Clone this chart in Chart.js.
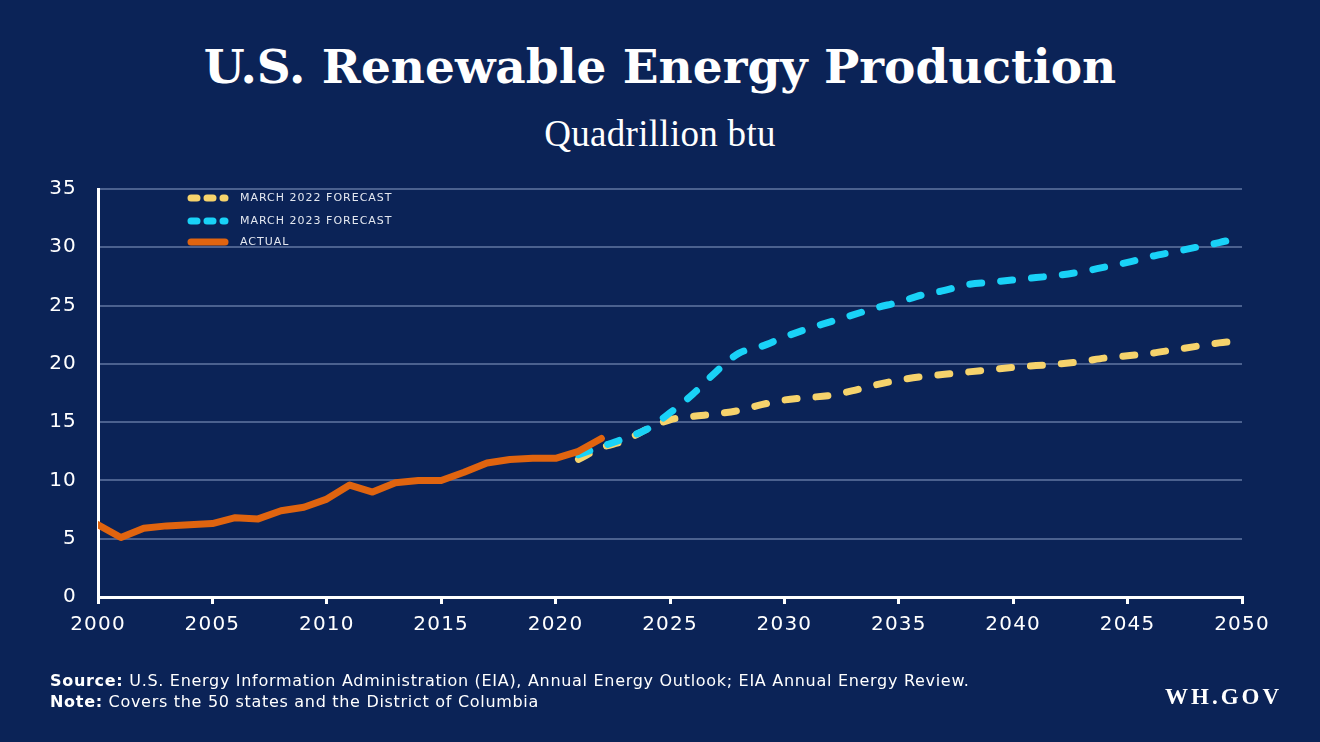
<!DOCTYPE html>
<html>
<head>
<meta charset="utf-8">
<title>U.S. Renewable Energy Production</title>
<script src="https://cdn.jsdelivr.net/npm/chart.js@4.4.1/dist/chart.umd.min.js"></script>
<style>
  html, body { margin: 0; padding: 0; }
  body { width: 1320px; height: 742px; background: #0b2357; position: relative; overflow: hidden; }
  #title { position: absolute; left: 0; width: 1320px; top: 39px; text-align: center; color: #fff;
    font: bold 47px "DejaVu Serif", serif; letter-spacing: 0px; }
  #subtitle { position: absolute; left: 0; width: 1320px; top: 112px; text-align: center; color: #fff;
    font: 37px "Liberation Serif", serif; letter-spacing: 0.3px; }
  #chart-box { position: absolute; left: 0; top: 0; width: 1320px; height: 742px; }
  .foot { position: absolute; left: 50px; color: #fff; font: 16px "DejaVu Sans", sans-serif; letter-spacing: 0.7px; }
  .foot b { font-weight: bold; }
  #wh { position: absolute; left: 1165px; top: 684px; color: #fff; font: 600 23px "Liberation Serif", serif; letter-spacing: 3px; }
</style>
</head>
<body>
<div id="title">U.S. Renewable Energy Production</div>
<div id="subtitle">Quadrillion btu</div>
<div id="chart-box"><canvas id="my-chart"></canvas></div>
<div class="foot" style="top:671px"><b>Source:</b> U.S. Energy Information Administration (EIA), Annual Energy Outlook; EIA Annual Energy Review.</div>
<div class="foot" style="top:692px"><b>Note:</b> Covers the 50 states and the District of Columbia</div>
<div id="wh">WH.GOV</div>

<script>
'use strict';

//**************DATA********** */
let years = [2000, 2001, 2002, 2003, 2004, 2005, 2006, 2007, 2008, 2009,
  2010, 2011, 2012, 2013, 2014, 2015, 2016, 2017, 2018, 2019,
  2020, 2021, 2022, 2023, 2024, 2025, 2026, 2027, 2028, 2029,
  2030, 2031, 2032, 2033, 2034, 2035, 2036, 2037, 2038, 2039,
  2040, 2041, 2042, 2043, 2044, 2045, 2046, 2047, 2048, 2049, 2050];

// actual, 2000 - 2022
let actual = [6.2, 5.1, 5.9, 6.1, 6.2, 6.3, 6.8, 6.7, 7.4, 7.7,
  8.4, 9.6, 9.0, 9.8, 10.0, 10.0, 10.7, 11.5, 11.8, 11.9,
  11.9, 12.5, 13.6];

// March 2022 forecast, 2021 - 2050
let forecast2022 = [11.8, 12.8, 13.4, 14.4, 15.2, 15.5, 15.7, 16.0, 16.5, 16.9,
  17.1, 17.3, 17.7, 18.2, 18.6, 18.9, 19.1, 19.3, 19.5, 19.7,
  19.85, 20.0, 20.2, 20.5, 20.7, 20.9, 21.2, 21.5, 21.8, 22.0];

// March 2023 forecast, 2021 - 2050
let forecast2023 = [12.2, 12.9, 13.6, 14.4, 15.8, 17.4, 19.3, 20.9, 21.5, 22.3,
  23.0, 23.6, 24.2, 24.8, 25.3, 25.9, 26.3, 26.8, 27.0, 27.2,
  27.4, 27.6, 27.9, 28.3, 28.7, 29.2, 29.6, 30.0, 30.4, 30.9];

let seriesNames = ['MARCH 2022 FORECAST', 'MARCH 2023 FORECAST', 'ACTUAL'];
let yTicks = [0, 5, 10, 15, 20, 25, 30, 35];
let xTicks = [2000, 2005, 2010, 2015, 2020, 2025, 2030, 2035, 2040, 2045, 2050];

//**************HELPERS********** */
function toPoints(startYear, values) {
  let start = years.indexOf(startYear);
  return values.map((v, i) => ({ x: years[start + i], y: v }));
}

// wider tick lettering, like the original's geometric sans
let tickSpacing = {
  id: 'tickSpacing',
  beforeInit(chart) { chart.ctx.letterSpacing = '1.2px'; },
  beforeDraw(chart) { chart.ctx.letterSpacing = '1.2px'; }
};

// legend drawn inside the plot, top left
let insideLegend = {
  id: 'insideLegend',
  afterDraw(chart) {
    let c = chart.ctx;
    let area = chart.chartArea;
    let rows = [9, 32, 53];
    c.save();
    c.font = '11px "DejaVu Sans", sans-serif';
    c.letterSpacing = '1px';
    c.textBaseline = 'middle';
    chart.data.datasets.forEach((ds, i) => {
      let y = area.top + rows[i];
      c.beginPath();
      c.strokeStyle = ds.borderColor;
      c.lineWidth = 7;
      c.lineCap = 'round';
      c.setLineDash(ds.borderDash ? [6, 10] : []);
      c.moveTo(area.left + 93, y);
      c.lineTo(area.left + 127, y);
      c.stroke();
      c.fillStyle = '#e4e8f0';
      c.fillText(ds.label, area.left + 142, y);
    });
    c.restore();
  }
};

//**************CHART********** */
let ctx = document.getElementById('my-chart');
let gridGrey = 'rgba(140, 160, 200, 0.5)';

new Chart(ctx, {
  type: 'line',
  data: {
    datasets: [{
      label: seriesNames[0],
      data: toPoints(2021, forecast2022),
      borderColor: '#f6d36c',
      borderWidth: 7,
      borderDash: [12, 19],
      borderCapStyle: 'round',
      cubicInterpolationMode: 'monotone',
      pointRadius: 0,
      order: 2
    },
    {
      label: seriesNames[1],
      data: toPoints(2021, forecast2023),
      borderColor: '#19d2f7',
      borderWidth: 7,
      borderDash: [12, 19],
      borderCapStyle: 'round',
      cubicInterpolationMode: 'monotone',
      pointRadius: 0,
      order: 1
    },
    {
      label: seriesNames[2],
      data: toPoints(2000, actual),
      borderColor: '#e0640f',
      borderWidth: 7,
      borderCapStyle: 'round',
      borderJoinStyle: 'round',
      tension: 0,
      pointRadius: 0,
      order: 0
    }]
  },
  options: {
    responsive: true,
    maintainAspectRatio: false,
    animation: false,
    layout: { padding: { left: 40, right: 78, top: 189, bottom: 0 } },
    plugins: {
      legend: { display: false },
      tooltip: { enabled: false }
    },
    scales: {
      x: {
        type: 'linear',
        min: 2000,
        max: 2050,
        afterBuildTicks(scale) { scale.ticks = xTicks.map(v => ({ value: v })); },
        afterFit(scale) { scale.height = 145; },
        border: { color: '#ffffff', width: 3 },
        grid: { drawOnChartArea: false, drawTicks: true, tickLength: 7, color: '#ffffff', lineWidth: 3 },
        ticks: {
          color: '#ffffff',
          padding: 9,
          maxRotation: 0,
          font: { family: '"DejaVu Sans", sans-serif', size: 20 },
          callback: v => String(v)
        }
      },
      y: {
        min: 0,
        max: 35,
        afterBuildTicks(scale) { scale.ticks = yTicks.map(v => ({ value: v })); },
        afterFit(scale) { scale.width = 58; },
        border: { color: '#ffffff', width: 3 },
        grid: { drawTicks: false, color: gridGrey, lineWidth: 2 },
        ticks: {
          color: '#ffffff',
          padding: 21,
          font: { family: '"DejaVu Sans", sans-serif', size: 20 }
        }
      }
    }
  },
  plugins: [tickSpacing, insideLegend]
});
</script>
</body>
</html>
